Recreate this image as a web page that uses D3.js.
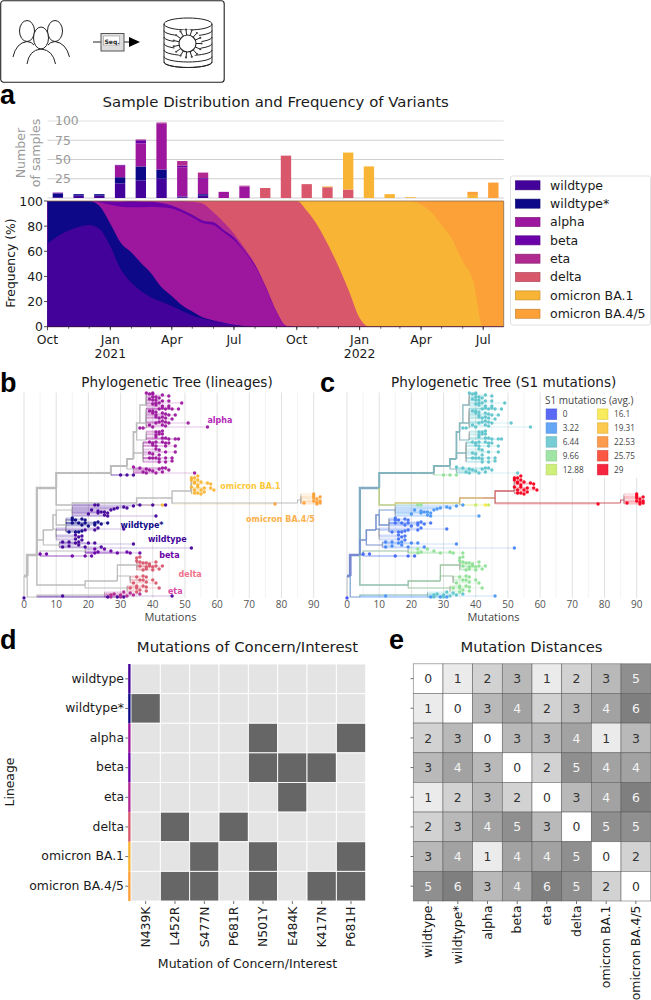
<!DOCTYPE html>
<html><head><meta charset="utf-8">
<script src="https://cdn.jsdelivr.net/npm/d3@7"></script>
<style>html,body{margin:0;padding:0;background:#fff}svg{display:block}text{font-family:"DejaVu Sans",sans-serif}</style>
</head><body><svg id="c" width="651" height="1000"></svg>
<script>
// ---------- shared categories ----------
const lineages = ["wildtype","wildtype*","alpha","beta","eta","delta","omicron BA.1","omicron BA.4/5"];
const lineageColors = ["#43039a","#0d0887","#9c179e","#6a00a8","#b12a90","#d8576b","#f8b535","#fca038"];

// ---------- panel a: monthly sample counts ----------
const months = ["2020-10","2020-11","2020-12","2021-01","2021-02","2021-03","2021-04","2021-05","2021-06","2021-07","2021-08","2021-09","2021-10","2021-11","2021-12","2022-01","2022-02","2022-03","2022-04","2022-05","2022-06","2022-07"];
const samplesWildtype  = [1,3,3,19,23,25,1,3,0,0,0,0,0,0,0,0,0,0,0,0,0,0];
const samplesWildtypeS = [5,2,2,8,18,12,1,2,0,0,0,0,0,0,0,0,0,0,0,0,0,0];
const samplesAlpha     = [0,0,0,15,30,60,38,20,8,15,0,0,0,0,0,0,0,0,0,0,0,0];
const samplesBeta      = [1,0,0,1,4,0,2,1,0,0,0,0,0,0,0,0,0,0,0,0,0,0];
const samplesEta       = [0,0,0,0,1,1,6,7,0,1,0,0,0,0,0,0,0,0,0,0,0,0];
const samplesDelta     = [0,0,0,0,0,0,0,0,0,0,13,55,18,14,11,0,0,0,0,0,0,0];
const samplesBA1       = [0,0,0,0,0,0,0,0,0,0,0,0,0,1,48,41,5,1,0,0,4,0];
const samplesBA45      = [0,0,0,0,0,0,0,0,0,0,0,0,0,0,0,0,0,0,0,0,4,20];
const sampleSeries = [samplesWildtype,samplesWildtypeS,samplesAlpha,samplesBeta,samplesEta,samplesDelta,samplesBA1,samplesBA45];
const sampleTicks = [25,50,75,100];

// ---------- panel a: frequency, upper edge of each stacked band (%) at half-month steps ----------
const freqDates = ["2020-10-01","2020-10-16","2020-11-01","2020-11-16","2020-12-01","2020-12-16","2021-01-01","2021-01-16","2021-02-01","2021-02-16","2021-03-01","2021-03-16","2021-04-01","2021-04-16","2021-05-01","2021-05-16","2021-06-01","2021-06-16","2021-07-01","2021-07-16","2021-08-01","2021-08-16","2021-09-01","2021-09-16","2021-10-01","2021-10-16","2021-11-01","2021-11-16","2021-12-01","2021-12-16","2022-01-01","2022-01-16","2022-02-01","2022-02-16","2022-03-01","2022-03-16","2022-04-01","2022-04-16","2022-05-01","2022-05-16","2022-06-01","2022-06-16","2022-07-01","2022-07-16","2022-07-31"];
const edgeWildtype  = [66,72,76.5,79.5,81,78,64,46,35,28,23.5,20,16.5,12.5,9,6.5,4.5,3,1.3,.4,0,0,0,0,0,0,0,0,0,0,0,0,0,0,0,0,0,0,0,0,0,0,0,0,0];
const edgeWildtypeS = [100,100,100,100,100,96,82,67,59,50,43,32,24.5,17,12,7.5,5,3.2,1.5,.5,0,0,0,0,0,0,0,0,0,0,0,0,0,0,0,0,0,0,0,0,0,0,0,0,0];
const edgeAlpha     = [100,100,100,100,100,99,97,95.5,95,95,95.5,95,94,91,87,82.5,81,75,69,60,48,32,12,.5,0,0,0,0,0,0,0,0,0,0,0,0,0,0,0,0,0,0,0,0,0];
const edgeBeta      = [100,100,100,100,100,100,99.8,99.5,100,99.5,99.5,98.5,96.5,93,89,84.5,83,77,71,61,49,32.3,12.3,.5,0,0,0,0,0,0,0,0,0,0,0,0,0,0,0,0,0,0,0,0,0];
const edgeEta       = [100,100,100,100,100,100,100,100,100,100,100,100,100,100,99.5,98,91,83,74,63,49.5,32.5,12.5,.5,0,0,0,0,0,0,0,0,0,0,0,0,0,0,0,0,0,0,0,0,0];
const edgeDelta     = [100,100,100,100,100,100,100,100,100,100,100,100,100,100,100,100,100,100,100,100,100,100,100,100,100,92,80,65,48,29,7,0,0,0,0,0,0,0,0,0,0,0,0,0,0];
const edgeBA1       = [100,100,100,100,100,100,100,100,100,100,100,100,100,100,100,100,100,100,100,100,100,100,100,100,100,100,100,100,100,100,100,100,100,100,100,100,97,91,81,70,52,37,0,0,0];
const edgeBA45      = freqDates.map(()=>100);
const freqEdges = [edgeWildtype,edgeWildtypeS,edgeAlpha,edgeBeta,edgeEta,edgeDelta,edgeBA1,edgeBA45];
const freqTicks = [0,20,40,60,80,100];
const dateTicks = [["2020-10-01","Oct"],["2021-01-01","Jan"],["2021-04-01","Apr"],["2021-07-01","Jul"],["2021-10-01","Oct"],["2022-01-01","Jan"],["2022-04-01","Apr"],["2022-07-01","Jul"]];

// ---------- panels b/c: tree backbone [id, parent, mutations, row, S1 mutations] ----------
const treeNodes = [
["R",null,0,183,1],["A","R",1,183,1],["B","A",4,162,1],["C","B",10,95,5],
["D","C",22,80,6],["D1","D",27,80,6.4],["D2","D1",32,73,6.4],["D3","D2",34,66,6.4],
["D4","D3",35,39,6.4],["D5","D4",36,30,6.4],["G1","D5",38,12,6.4],["G2","D5",38,30,6.4],
["G3","D4",38,47,6.4],["G4","D3",37,60,6.4],["G5","D2",34,76,6.4],
["F1","C",15,112,13],["F2","F1",35,110,16],["F3","F2",42,105,20],["F4","F3",46,105,23],
["O1","F4",52,98,28],["O2","F4",85,110,28],["O3","O2",86,107,29],
["W","B",6,147,2],["W1","W",9,137,2],["W2","W1",10,122,2],["WA","W2",15,117,3],
["WB","W2",13,132,2],["WC","W1",10,136,2],["W3","W",11,152,2],
["BE","B",5,162,1],["BE2","BE",19,158,9],
["DL","B",19,192,8],["DL1","DL",29,188,9],["DA","DL1",35,172,9.6],["DB","DL1",33,183,9.6],["DC","DL",32,195,9.6],
["EE","A",4,204,3],["EE1","EE",25,202,6]
];

// ---------- panels b/c: tips [mutations, row], one list per attaching node ----------
const tipsG1 = [[38,0],[39,1],[40,1],[40,0],[43,2],[45,3],[40,4],[41,4],[42,5],[39,6],[40,7],[41,7],[43,8],[45,8],[49,10],[41,10],[42,10],[40,11],[41,12],[43,13],[45,13]];
const tipsG2 = [[39,18],[40,18],[41,19],[42,16],[43,15],[44,16],[45,15],[46,16],[48,16],[40,20],[41,22],[43,20],[44,21],[45,22],[47,22],[41,24],[42,25],[43,24],[44,25],[46,26],[43,28],[42,29],[44,29],[41,30],[45,30],[51,30],[43,32],[44,33],[57,34],[36,35],[37,35],[39,32],[40,34]];
const tipsG3 = [[41,39],[42,39],[43,38],[41,42],[42,41],[43,41],[41,44],[43,45],[44,45],[45,46],[47,46],[48,46]];
const tipsG4 = [[39,49],[40,50],[41,49],[43,49],[44,50],[45,50],[40,52],[41,53],[44,53],[47,53],[41,56],[42,57],[44,59],[47,59],[39,60],[40,61],[42,62],[39,65],[40,65],[41,65],[42,66],[44,65],[46,68],[44,69],[42,69],[46,65]];
const tipsG5 = [[34,74],[36,75],[38,76],[39,77],[40,78],[42,76],[43,75],[44,75],[45,77],[37,79],[38,80],[43,79],[53,80],[41,80]];
const tipsD1 = [[30,82],[32,82],[34,82]];
const tipsF1 = [[22,112],[23,112]];
const tipsF2 = [[40,112],[44,112]];
const tipsF2Yellow = [[43,112]];
const tipsO1 = [[52,85],[53,85],[54,83],[52,87],[53,89],[54,87],[53,90],[54,92],[55,89],[57,90],[58,91],[56,95],[58,95],[59,97],[53,97],[55,97],[56,99],[53,100],[54,100],[55,101],[54,94],[52,94]];
const tipsO3 = [[90,101],[90,103],[92,104],[90,105],[91,106],[92,108],[91,109],[90,108],[87,110],[91,111],[92,110]];
const tipsF4 = [[78,111]];
const tipsWA = [[21,117],[23,118],[24,119],[25,119],[26,120],[27,117],[28,116],[29,115],[31,114],[32,115],[34,113],[36,112],[41,123],[26,123],[20,121],[23,120],[25,122]];
const tipsWB = [[15,125],[15,127],[16,127],[18,126],[19,127],[15,130],[17,130],[19,130],[22,130],[23,129],[24,131],[26,130],[18,132],[20,133],[22,132],[14,139],[16,139],[17,139],[18,138]];
const tipsWC = [[31,136],[23,135],[22,137],[19,137],[16,142],[17,144],[18,143],[16,146],[18,147]];
const tipsW3 = [[12,149],[14,149],[16,150],[17,149],[20,150],[22,150],[34,151],[24,154],[12,154],[14,153],[17,152],[19,154],[52,155]];
const tipsBE = [[5,161],[7,161],[15,163],[19,163],[21,163]];
const tipsBE2 = [[22,156],[23,159],[25,156],[27,158],[29,160],[32,159],[33,160],[36,160],[22,160]];
const tipsDA = [[35,165],[36,164],[35,168],[36,169],[37,170],[38,170],[39,171],[41,169],[41,173],[43,173],[39,173],[40,174],[38,174],[36,173],[42,176],[40,177],[38,176],[37,177]];
const tipsDB = [[35,184],[37,183],[38,184],[36,187],[37,187],[38,189],[40,187],[41,190],[34,190]];
const tipsDC = [[35,193],[37,193],[38,194],[42,195],[33,195],[35,195],[36,197],[38,198],[35,199]];
const tipsEE1 = [[27,202],[28,201],[30,202],[32,203],[27,204],[31,199],[33,200],[30,204],[34,202],[36,201]];
const tipsEE = [[12,203],[26,204],[29,204],[31,204],[46,203]];
const tipsRoot = [[0,205]];
// [attach node, tips, lineage index (b), S1 mutations (c)]
const tipGroups = [
["G1",tipsG1,2,6.44],["G2",tipsG2,2,6.44],["G3",tipsG3,2,6.44],["G4",tipsG4,2,6.44],["G5",tipsG5,2,6.44],
["D1",tipsD1,0,9.66],["F1",tipsF1,0,9.66],["F2",tipsF2,0,12.88],["F2",tipsF2Yellow,6,16.1],
["O1",tipsO1,6,29],["O3",tipsO3,7,29],["F4",tipsF4,7,29],
["WA",tipsWA,0,3.22],["WB",tipsWB,1,1.6],["WC",tipsWC,0,1.6],["W3",tipsW3,0,2.5],
["BE",tipsBE,3,1],["BE2",tipsBE2,3,9.66],
["DA",tipsDA,5,9.66],["DB",tipsDB,5,9.66],["DC",tipsDC,5,9.66],
["EE1",tipsEE1,4,6.44],["EE",tipsEE,0,3.22],["R",tipsRoot,0,0]
];
const treeTicks = [0,10,20,30,40,50,60,70,80,90];
const treeMinor = [5,15,25,35,45,55,65,75,85];
const lineageLabels = [["alpha",2,57,30],["omicron BA.1",6,61,96],["omicron BA.4/5",7,69,129],["wildtype*",1,30,135],["wildtype",0,38.5,149],["beta",3,42,165],["delta",5,48,184],["eta",4,44.7,201]];
const s1Values = [0,3.22,6.44,9.66,12.88,16.1,19.31,22.53,25.75,29];
const s1Colors = ["#3f4ff5","#4a97f5","#5fc4cc","#8fe096","#c6ec62","#f7e83f","#fdc131","#fb8a2e","#f93a25","#f5001e"];

// ---------- panel d / e ----------
const mutations = ["N439K","L452R","S477N","P681R","N501Y","E484K","K417N","P681H"];
const lineageMutations = [[0,0,0,0,0,0,0,0],[1,0,0,0,0,0,0,0],[0,0,0,0,1,0,0,1],[0,0,0,0,1,1,1,0],[0,0,0,0,0,1,0,0],[0,1,0,1,0,0,0,0],[0,0,1,0,1,0,0,1],[0,1,1,0,1,0,1,1]];
const distances = [[0,1,2,3,1,2,3,5],[1,0,3,4,2,3,4,6],[2,3,0,3,3,4,1,3],[3,4,3,0,2,5,4,4],[1,2,3,2,0,3,4,6],[2,3,4,5,3,0,5,5],[3,4,1,4,4,5,0,2],[5,6,3,4,6,5,2,0]];

// ---------- drawing ----------
const svg = d3.select("#c");
const FS = 12.4;
const OPEN = "'Open Sans',sans-serif";
function label(g,x,y,t,o={}){
  const e=g.append("text").attr("x",x).attr("y",y).text(t)
   .attr("font-size",o.size||FS).attr("fill",o.fill||"#1a1a1a").attr("text-anchor",o.anchor||"start");
  if(o.weight)e.attr("font-weight",o.weight);
  if(o.family)e.style("font-family",o.family);
  if(o.rot!=null)e.attr("transform",`rotate(${o.rot} ${x} ${y})`);
  return e;
}
// panel letters
[["a",0,104],["b",0,392],["c",320,392],["d",0,649],["e",389,649]].forEach(d=>
  label(svg,d[1],d[2],d[0],{size:27,weight:700,fill:"#000",family:"'Liberation Sans',Arial,sans-serif"}));

// icon strip
const ic = svg.append("g").attr("fill","none").attr("stroke","#222").attr("stroke-width",1);
ic.append("rect").attr("x",.7).attr("y",.7).attr("width",223.5).attr("height",81.5).attr("rx",3).attr("stroke-width",1.1);
ic.append("ellipse").attr("cx",27).attr("cy",31).attr("rx",7.5).attr("ry",10.5);
ic.append("ellipse").attr("cx",55).attr("cy",31).attr("rx",7.5).attr("ry",10.5);
ic.append("path").attr("d","M13 57 Q16 43 27 41.5 Q32 42 34 45");
ic.append("path").attr("d","M69.5 57 Q66 43 55 41.5 Q50 42 48 45");
ic.append("ellipse").attr("cx",41).attr("cy",38).attr("rx",7.5).attr("ry",11).attr("fill","#fff");
ic.append("path").attr("d","M27 64 Q29 50 41 49 Q53 50 55.5 64");
ic.append("path").attr("stroke-width",1.2).attr("d","M93 42H101M124 42H131");
ic.append("path").attr("fill","#000").attr("stroke","none").attr("d","M129 37L140 42L129 47Z");
ic.append("rect").attr("x",101).attr("y",33.5).attr("width",23).attr("height",17.5).attr("fill","#ddd").attr("stroke","#555");
ic.append("rect").attr("x",103.5).attr("y",36).attr("width",16).attr("height",9).attr("fill","#fff").attr("stroke","#999").attr("stroke-width",.6);
label(svg,104.5,44,"Seq.",{size:6,weight:700});
const cy=[24,30.5,37,43.5,50,56.5,62];
ic.append("path").attr("d","M164 24V62A24 5.5 0 0 0 212 62V24");
ic.append("ellipse").attr("cx",188).attr("cy",24).attr("rx",24).attr("ry",6);
cy.slice(1).forEach(y=>ic.append("path").attr("d",`M164 ${y}A24 5.5 0 0 0 212 ${y}`));
ic.append("circle").attr("cx",187.5).attr("cy",43.5).attr("r",14).attr("fill","#fff").attr("stroke","none");
ic.append("circle").attr("cx",187.5).attr("cy",43.5).attr("r",8.5).attr("stroke-width",1.1);
d3.range(0,360,24).forEach(a=>{const r=a*Math.PI/180,c=Math.cos(r),s=Math.sin(r);
  ic.append("line").attr("x1",187.5+8.5*c).attr("y1",43.5+8.5*s).attr("x2",187.5+14*c).attr("y2",43.5+14*s);
  ic.append("circle").attr("cx",187.5+14*c).attr("cy",43.5+14*s).attr("r",1.1).attr("fill","#444").attr("stroke","none");});

// panel a
const left=47.5,right=503.7;
label(svg,275.7,107,"Sample Distribution and Frequency of Variants",{size:14.9,anchor:"middle"});
const yBar=d3.scaleLinear([0,100],[198,121]);
const xBar=d3.scaleBand(months,[left,right]).paddingInner(.5).paddingOuter(.25);
const ga=svg.append("g");
ga.selectAll(".grid").data([0,...sampleTicks]).join("line").attr("x1",left).attr("x2",right)
  .attr("y1",d=>yBar(d)).attr("y2",d=>yBar(d)).attr("stroke",d=>d==100?"#e2e2e2":"#cfcfcf").attr("stroke-width",1.1);
const stack=d3.stack().keys(d3.range(8)).value((d,k)=>sampleSeries[k][d]);
stack(d3.range(months.length)).forEach((s,k)=>{
  ga.append("g").selectAll("rect").data(s).join("rect")
   .attr("x",(d,i)=>xBar(months[i])).attr("width",xBar.bandwidth())
   .attr("y",d=>yBar(d[1])).attr("height",d=>yBar(d[0])-yBar(d[1]))
   .attr("fill",lineageColors[k]);
});
sampleTicks.forEach(t=>label(ga,55,yBar(t)+4.4,t,{fill:"#9a9a9a",size:FS}));
label(ga,25,153,"Number",{fill:"#9a9a9a",anchor:"middle",rot:-90,size:12.6});
label(ga,40,153,"of samples",{fill:"#9a9a9a",anchor:"middle",rot:-90,size:12.6});

const xTime=d3.scaleTime([new Date("2020-10-01T00:00Z"),new Date("2022-07-31T00:00Z")],[left,right]);
const yFreq=d3.scaleLinear([0,100],[326.7,201]);
const gf=svg.append("g");
const dts=freqDates.map(d=>new Date(d+"T00:00Z"));
const idx=d3.range(dts.length);
for(let k=7;k>=0;k--){
  const area=d3.area().x(i=>xTime(dts[i])).y0(yFreq(0)).y1(i=>yFreq(freqEdges[k][i])).curve(d3.curveMonotoneX);
  gf.append("path").attr("d",area(idx)).attr("fill",lineageColors[k]);
}
gf.append("path").attr("d",`M${left} ${yFreq(100)}H${right}V${yFreq(0)}`).attr("fill","none").attr("stroke","#8a6a4a").attr("stroke-width",.8);
gf.append("line").attr("x1",left).attr("x2",right).attr("y1",yFreq(0)).attr("y2",yFreq(0)).attr("stroke","#3a1040").attr("stroke-width",.9);
freqTicks.forEach(t=>{
  gf.append("line").attr("x1",left-3.5).attr("x2",left).attr("y1",yFreq(t)).attr("y2",yFreq(t)).attr("stroke","#222").attr("stroke-width",.8);
  label(gf,left-4.5,yFreq(t)+4.5,t,{anchor:"end"});
});
label(gf,15,263,"Frequency (%)",{anchor:"middle",rot:-90});
d3.timeMonth.range(new Date("2020-10-01T12:00Z"),new Date("2022-08-01T00:00Z")).forEach(m=>{
  const x=xTime(Date.UTC(m.getUTCFullYear(),m.getUTCMonth(),1));
  gf.append("line").attr("x1",x).attr("x2",x).attr("y1",yFreq(0)).attr("y2",yFreq(0)+2).attr("stroke","#222").attr("stroke-width",.7);
});
dateTicks.forEach(([d,t])=>{
  const x=xTime(new Date(d+"T00:00Z"));
  gf.append("line").attr("x1",x).attr("x2",x).attr("y1",yFreq(0)).attr("y2",yFreq(0)+3.5).attr("stroke","#222").attr("stroke-width",.8);
  label(gf,x,343.5,t,{anchor:"middle"});
  if(t=="Jan")label(gf,x,358,d.slice(0,4),{anchor:"middle"});
});
// legend a
const gl=svg.append("g");
gl.append("rect").attr("x",510.5).attr("y",176).attr("width",140).attr("height",149).attr("rx",2).attr("fill","#fff").attr("stroke","#dcdcdc").attr("stroke-width",.9);
lineages.forEach((l,i)=>{
  const y=185.3+i*18.35;
  gl.append("rect").attr("x",515.5).attr("y",y-4.5).attr("width",24.5).attr("height",9).attr("fill",lineageColors[i]).attr("stroke",d3.color(lineageColors[i]).darker(.6)).attr("stroke-width",.7);
  label(gl,550,y+4.3,l,{size:12.5});
});

// trees
const allRows=treeNodes.map(d=>({id:d[0],parent:d[1],m:d[2],r:d[3],s:d[4],tip:false}));
tipGroups.forEach(([p,t,li,s],gi)=>t.forEach((d,i)=>allRows.push({id:p+"_"+gi+"_"+i,parent:p,m:d[0],r:d[1],s,li,tip:true})));
const root=d3.stratify().id(d=>d.id).parentId(d=>d.parent)(allRows);
const s1Scale=d3.scaleLinear(s1Values,s1Colors);
const edgeW=n=>.3+.35*Math.pow(n.leaves().length,.35);
function drawTree(x0,mode){
  const g=svg.append("g");
  const x=d3.scaleLinear([0,90],[x0,x0+289.7]);
  const y=d3.scaleLinear([0,205],[393,598]);
  treeMinor.forEach(t=>g.append("line").attr("x1",x(t)).attr("x2",x(t)).attr("y1",392.5).attr("y2",598).attr("stroke","#f0f0f0").attr("stroke-width",.8));
  treeTicks.forEach(t=>{
    g.append("line").attr("x1",x(t)).attr("x2",x(t)).attr("y1",392.5).attr("y2",598).attr("stroke","#dedede").attr("stroke-width",.9);
    label(g,x(t),608,t,{anchor:"middle",size:10,fill:"#555",family:OPEN});
  });
  label(g,x0+146.4,620.5,"Mutations",{anchor:"middle",size:11,fill:"#444",family:OPEN});
  const links=root.links().sort((a,b)=>(a.target.data.tip?0:1)-(b.target.data.tip?0:1));
  const tipLinks=links.filter(l=>l.target.data.tip),innerLinks=links.filter(l=>!l.target.data.tip);
  // tip stems: grey vertical run, tinted horizontal run
  g.append("g").attr("fill","none").selectAll("path").data(tipLinks).join("path")
   .attr("d",l=>`M${x(l.source.data.m)} ${y(l.source.data.r)}V${y(l.target.data.r)}`)
   .attr("stroke","#b8b8b8").attr("stroke-width",.8);
  g.append("g").attr("fill","none").selectAll("path").data(tipLinks).join("path")
   .attr("d",l=>`M${x(l.source.data.m)} ${y(l.target.data.r)}H${x(l.target.data.m)}`)
   .attr("stroke",l=>mode=="b"?lineageColors[l.target.data.li]:s1Scale(l.target.data.s))
   .attr("stroke-opacity",.32).attr("stroke-width",.8);
  g.append("g").attr("fill","none").selectAll("path").data(innerLinks).join("path")
   .attr("d",l=>`M${x(l.source.data.m)} ${y(l.source.data.r)}V${y(l.target.data.r)}H${x(l.target.data.m)}`)
   .attr("stroke",l=>mode=="b"?"#bdbdbd":d3.interpolateRgb(s1Scale(l.target.data.s),"#aaaaaa")(.5))
   .attr("stroke-width",l=>edgeW(l.target));
  const tips=root.leaves();
  g.append("g").selectAll("circle").data(tips).join("circle")
   .attr("cx",n=>x(n.data.m)).attr("cy",n=>y(n.data.r)).attr("r",1.7)
   .attr("fill",n=>mode=="b"?lineageColors[n.data.li]:s1Scale(n.data.s)).attr("fill-opacity",.95);
  return {g,x,y};
}
const tb=drawTree(24,"b");
const tc=drawTree(347,"c");
label(svg,177,387,"Phylogenetic Tree (lineages)",{anchor:"middle",size:13.55});
label(svg,503.7,387,"Phylogenetic Tree (S1 mutations)",{anchor:"middle",size:13.6});
lineageLabels.forEach(([t,li,m,r])=>{
  const col=li==6?"#fbc93a":li==7?"#fbb04a":li==5?"#f0708a":li==4?"#d84aa8":li==2?"#b42ab6":lineageColors[li];
  label(tb.g,tb.x(m),tb.y(r),t,{size:8,weight:700,fill:col});
});
// legend c
const lc=svg.append("g");
lc.append("rect").attr("x",542).attr("y",394).attr("width",107).attr("height",84).attr("fill","#fff").attr("fill-opacity",.85);
label(lc,545,404,"S1 mutations (avg.)",{size:10,fill:"#444",family:OPEN});
s1Values.forEach((v,i)=>{
  const col=i<5?0:1,row=i%5,sx=col?597:545.7,sy=408.5+row*13.85;
  const c=s1Colors[i];
  lc.append("rect").attr("x",sx+.4).attr("y",sy+.4).attr("width",10.6).attr("height",10.6).attr("fill",c).attr("fill-opacity",.85).attr("stroke",d3.color(c).darker(.5)).attr("stroke-opacity",.5).attr("stroke-width",.9);
  label(lc,sx+17,sy+8.8,v,{size:8.2,fill:"#444",family:OPEN});
});

// panel d
const xMut=d3.scaleBand(mutations,[131,365.7]);
const yLin=d3.scaleBand(lineages,[664,901]);
const gd=svg.append("g");
label(gd,247.5,651.5,"Mutations of Concern/Interest",{anchor:"middle",size:14.9});
lineages.forEach((l,i)=>{
  gd.append("rect").attr("x",128.2).attr("y",yLin(l)).attr("width",2.8).attr("height",yLin.bandwidth()).attr("fill",lineageColors[i]);
  gd.append("line").attr("x1",125.3).attr("x2",128.2).attr("y1",yLin(l)+yLin.bandwidth()/2).attr("y2",yLin(l)+yLin.bandwidth()/2).attr("stroke","#333").attr("stroke-width",.7);
  label(gd,124,yLin(l)+yLin.bandwidth()/2+3.8,l,{anchor:"end",size:12.4});
  mutations.forEach((m,j)=>gd.append("rect").attr("x",xMut(m)).attr("y",yLin(l)).attr("width",xMut.bandwidth()).attr("height",yLin.bandwidth())
    .attr("fill",lineageMutations[i][j]?"#666666":"#e4e4e4").attr("stroke","#fff").attr("stroke-width",.9));
});
mutations.forEach(m=>{
  const x=xMut(m)+xMut.bandwidth()/2;
  gd.append("line").attr("x1",x).attr("x2",x).attr("y1",901).attr("y2",904).attr("stroke","#333").attr("stroke-width",.7);
  label(gd,x+4.3,906.5,m,{rot:-90,size:12.4,anchor:"end"});
});
label(gd,14,782,"Lineage",{anchor:"middle",rot:-90,size:12.4});
label(gd,247.5,968,"Mutation of Concern/Interest",{anchor:"middle",size:12.5});

// panel e
const xD=d3.scaleBand(lineages,[413.3,650.7]);
const yD=d3.scaleBand(lineages,[663.8,901]);
const grey=d3.scaleLinear([0,1,2,3,4,5,6],["#ffffff","#ebebeb","#d2d2d2","#b9b9b9","#a2a2a2","#8f8f8f","#7f7f7f"]);
const ge=svg.append("g");
label(ge,531.5,651.5,"Mutation Distances",{anchor:"middle",size:14.75});
lineages.forEach((l,i)=>{
  lineages.forEach((m,j)=>{
    const v=distances[i][j];
    ge.append("rect").attr("x",xD(m)).attr("y",yD(l)).attr("width",xD.bandwidth()).attr("height",yD.bandwidth())
     .attr("fill",grey(v)).attr("stroke","#555").attr("stroke-opacity",.7).attr("stroke-width",.7);
    label(ge,xD(m)+xD.bandwidth()/2,yD(l)+yD.bandwidth()/2+4.6,v,{anchor:"middle",size:12.4,fill:v>=4?"#f4f4f4":"#333"});
  });
  const y=yD(l)+yD.bandwidth()/2,x=xD(l)+xD.bandwidth()/2;
  ge.append("line").attr("x1",410.5).attr("x2",413.3).attr("y1",y).attr("y2",y).attr("stroke","#333").attr("stroke-width",.7);
  ge.append("line").attr("x1",x).attr("x2",x).attr("y1",901).attr("y2",904).attr("stroke","#333").attr("stroke-width",.7);
  label(ge,x+4.3,905.5,l,{anchor:"end",rot:-90,size:12.4});
});
</script></body></html>
